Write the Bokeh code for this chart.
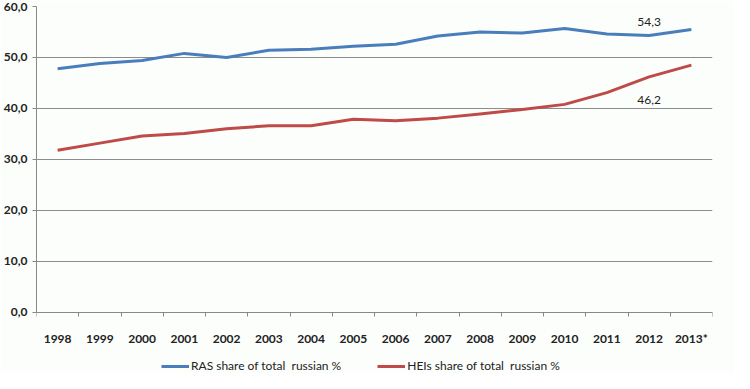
from bokeh.plotting import figure
from bokeh.models import FixedTicker, Legend, LegendItem, Range1d
from bokeh.core.properties import value
from bokeh.embed import file_html
from bokeh.resources import INLINE

years = ["1998", "1999", "2000", "2001", "2002", "2003", "2004", "2005",
         "2006", "2007", "2008", "2009", "2010", "2011", "2012", "2013*"]
ras_share = [47.8, 48.8, 49.4, 50.8, 50.0, 51.4, 51.6, 52.2,
             52.6, 54.2, 55.0, 54.8, 55.7, 54.6, 54.3, 55.5]
hei_share = [31.8, 33.2, 34.6, 35.1, 36.0, 36.6, 36.6, 37.9,
             37.6, 38.1, 38.9, 39.8, 40.8, 43.1, 46.2, 48.5]
y_ticks = [0, 10, 20, 30, 40, 50, 60]
annot_year = "2012"
annot_ras = "54,3"
annot_hei = "46,2"

FONT = "Lato"
BLUE = "#4a7ebb"
RED = "#be4b48"
BG = "#fcfefc"

xs = [i + 0.5 for i in range(len(years))]

# frame extends below 0 to hold tick labels and legend; axes are pinned at 0
p = figure(width=734, height=373, output_backend="svg", toolbar_location=None,
           x_range=Range1d(0, len(years)), y_range=Range1d(-12, 60),
           min_border_left=36, min_border_right=22, min_border_top=6, min_border_bottom=0)
p.background_fill_color = BG
p.border_fill_color = BG
p.outline_line_color = None

r1 = p.line(xs, ras_share, line_color=BLUE, line_width=3, line_join="round")
r2 = p.line(xs, hei_share, line_color=RED, line_width=3, line_join="round")

# annotations
ai = years.index(annot_year)
p.text(x=[xs[ai]], y=[ras_share[ai]], text=[annot_ras], text_font=value(FONT),
       text_font_size="12px", text_color="#222", text_align="center",
       text_baseline="middle", y_offset=-14)
p.text(x=[xs[ai]], y=[hei_share[ai]], text=[annot_hei], text_font=value(FONT),
       text_font_size="12px", text_color="#222", text_align="center",
       text_baseline="middle", y_offset=23)

# x axis: labels at centers, ticks at boundaries (minor ticks)
p.xaxis.fixed_location = 0
p.xaxis.ticker = FixedTicker(ticks=xs, minor_ticks=list(range(len(years) + 1)))
p.xaxis.major_label_overrides = {x: y for x, y in zip(xs, years)}
p.xaxis.major_tick_out = 0
p.xaxis.major_tick_in = 0
p.xaxis.minor_tick_out = 4
p.xaxis.minor_tick_in = 0
p.xaxis.minor_tick_line_color = "#888888"
p.xaxis.axis_line_color = "#888888"
p.xaxis.major_label_text_font = FONT
p.xaxis.major_label_text_font_size = "12px"
p.xaxis.major_label_text_font_style = "bold"
p.xaxis.major_label_text_color = "#222"
p.xaxis.major_label_standoff = 15

p.yaxis.bounds = (0, 60)
p.yaxis.ticker = FixedTicker(ticks=y_ticks)
p.yaxis.major_label_overrides = {t: f"{t},0" for t in y_ticks}
p.yaxis.major_tick_out = 4
p.yaxis.major_tick_in = 0
p.yaxis.minor_tick_line_color = None
p.yaxis.major_tick_line_color = "#888888"
p.yaxis.axis_line_color = "#888888"
p.yaxis.major_label_text_font = FONT
p.yaxis.major_label_text_font_size = "12px"
p.yaxis.major_label_text_font_style = "bold"
p.yaxis.major_label_text_color = "#222"
p.yaxis.major_label_standoff = 5

p.xgrid.grid_line_color = None
p.ygrid.grid_line_color = "#8c8c8c"
p.ygrid.grid_line_width = 1

legend = Legend(items=[LegendItem(label="RAS share of total  russian %", renderers=[r1]),
                       LegendItem(label="HEIs share of total  russian %", renderers=[r2])],
                orientation="horizontal", location=(125, 0),
                label_text_font=FONT, label_text_font_size="12px", label_text_color="#222",
                glyph_width=28, glyph_height=14, spacing=36, label_standoff=2,
                border_line_color=None, background_fill_alpha=0, padding=2, margin=0)
p.add_layout(legend, "center")

open("out.html", "w").write(file_html(p, INLINE))
